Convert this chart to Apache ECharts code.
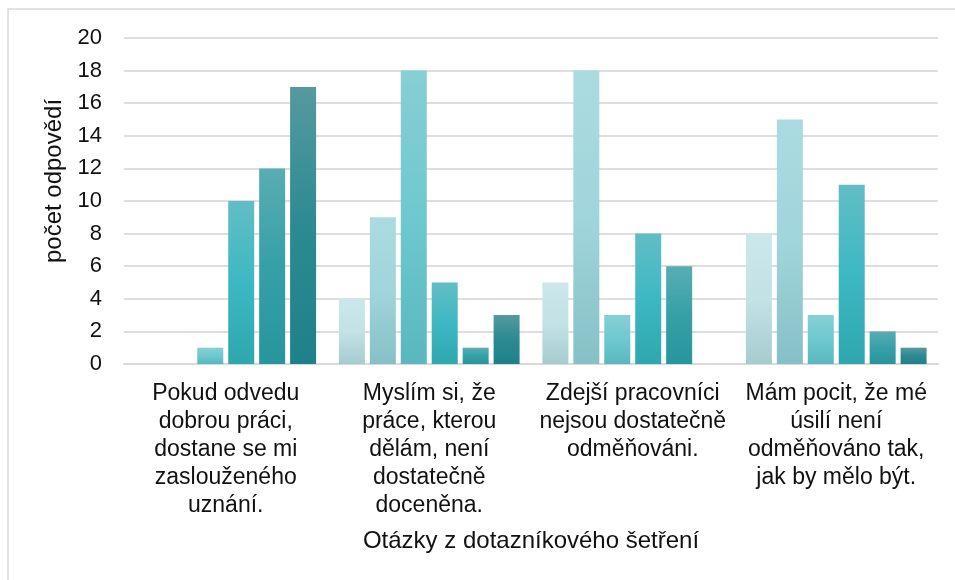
<!DOCTYPE html>
<html>
<head>
<meta charset="utf-8">
<script src="https://cdn.jsdelivr.net/npm/echarts@6/dist/echarts.min.js"></script>
<style>
  html, body { margin: 0; padding: 0; background: #fff; }
  #chart { width: 955px; height: 580px; }
</style>
</head>
<body>
<div id="chart"></div>
<script>
// otázky (kategorie osy x)
const categories = [
  'Pokud odvedu\ndobrou práci,\ndostane se mi\nzaslouženého\nuznání.',
  'Myslím si, že\npráce, kterou\ndělám, není\ndostatečně\ndoceněna.',
  'Zdejší pracovníci\nnejsou dostatečně\nodměňováni.',
  'Mám pocit, že mé\núsilí není\nodměňováno tak,\njak by mělo být.'
]
const yTicks = [0, 2, 4, 6, 8, 10, 12, 14, 16, 18, 20]

// počty odpovědí, jedna řada na variantu odpovědi
const odp1 = [0, 4, 5, 8]
const odp2 = [0, 9, 18, 15]
const odp3 = [1, 18, 3, 3]
const odp4 = [10, 5, 8, 11]
const odp5 = [12, 1, 6, 2]
const odp6 = [17, 3, 0, 1]
const seriesData = [odp1, odp2, odp3, odp4, odp5, odp6]
const seriesNames = ['odpověď 1', 'odpověď 2', 'odpověď 3', 'odpověď 4', 'odpověď 5', 'odpověď 6']

// barvy: horní, střední, spodní část přechodu
const colors = [
  ['#cbe7eb', '#c3e2e6', '#a6cbcf'],
  ['#abdbe0', '#a0d5db', '#86c0c6'],
  ['#86cfd5', '#6fc8cf', '#58b8be'],
  ['#62bdc5', '#3db8c3', '#2ea7ad'],
  ['#59adb3', '#36a0a7', '#27959c'],
  ['#56999f', '#2c8a91', '#20808a']
]

const textColor = '#111'
const font = 'Liberation Sans, Arial, sans-serif'

var chart = echarts.init(document.getElementById('chart'), null, { renderer: 'canvas' })

var series = seriesData.map((data, i) => {
  return {
    name: seriesNames[i],
    type: 'bar',
    data: data,
    barWidth: 26,
    barGap: '19%',
    silent: true,
    itemStyle: {
      color: new echarts.graphic.LinearGradient(0, 0, 0, 1, [
        { offset: 0, color: colors[i][0] },
        { offset: 0.5, color: colors[i][1] },
        { offset: 1, color: colors[i][2] }
      ])
    }
  }
})

var option = {
  animation: false,
  backgroundColor: '#fff',
  textStyle: { fontFamily: font },
  // rámeček grafu
  graphic: [{
    type: 'rect',
    shape: { x: 8, y: 9, width: 1000, height: 1000 },
    style: { fill: 'none', stroke: '#d9d9d9', lineWidth: 1.5 },
    silent: true
  }],
  grid: {
    left: 124,
    right: 17,
    top: 38,
    bottom: 216
  },
  xAxis: {
    type: 'category',
    data: categories,
    name: 'Otázky z dotazníkového šetření',
    nameLocation: 'middle',
    nameGap: 165,
    nameTextStyle: { color: textColor, fontSize: 24, fontFamily: font },
    axisTick: { show: false },
    axisLine: { show: true, lineStyle: { color: '#d9d9d9', width: 2 } },
    axisLabel: {
      color: textColor,
      fontSize: 23,
      lineHeight: 28,
      margin: 16,
      align: 'center',
      interval: 0,
      fontFamily: font
    }
  },
  yAxis: {
    type: 'value',
    min: yTicks[0],
    max: yTicks[yTicks.length - 1],
    interval: yTicks[1] - yTicks[0],
    name: 'počet odpovědí',
    nameLocation: 'middle',
    nameGap: 56,
    nameRotate: 90,
    nameTextStyle: { color: textColor, fontSize: 24, fontFamily: font, padding: [0, 0, 0, 40] },
    axisLine: { show: false },
    axisTick: { show: false },
    axisLabel: { color: textColor, fontSize: 22, margin: 22, fontFamily: font },
    splitLine: { show: true, lineStyle: { color: '#dedede', width: 2 } }
  },
  series: series
}

chart.setOption(option)
</script>
</body>
</html>
